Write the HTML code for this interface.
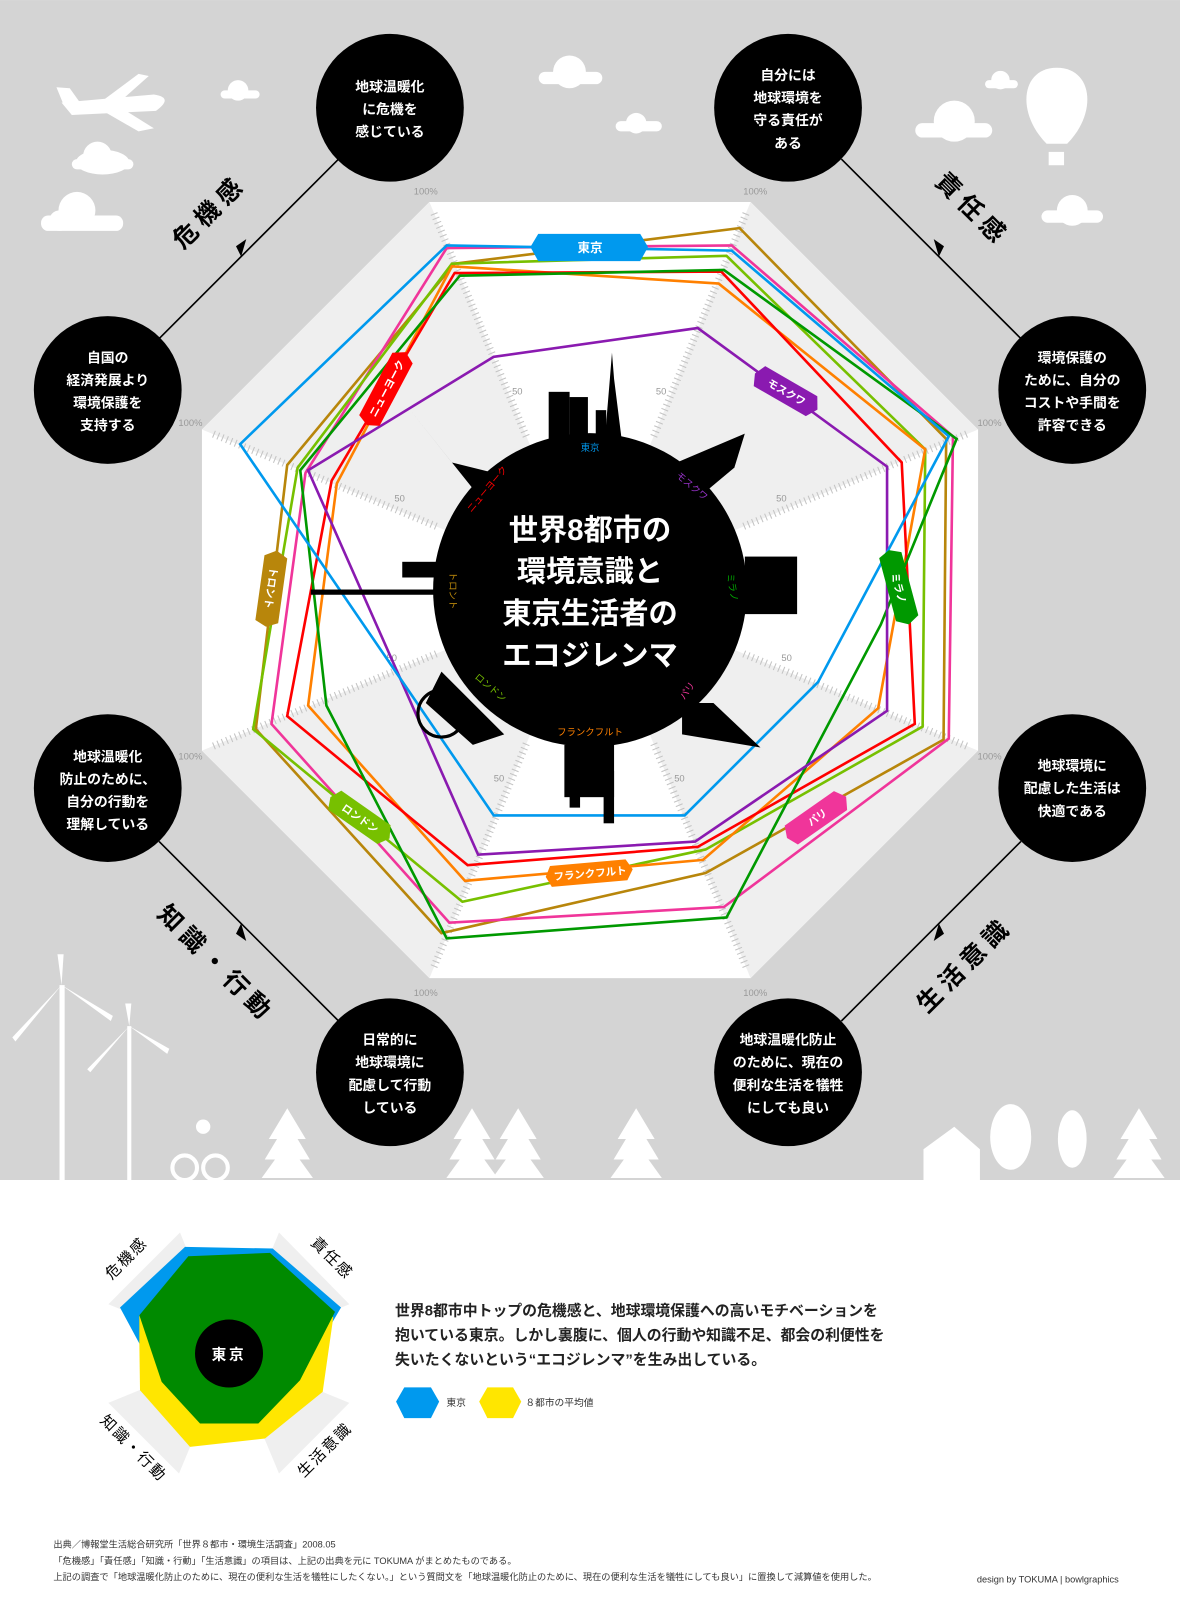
<!DOCTYPE html>
<html><head><meta charset="utf-8"><style>
html,body{margin:0;padding:0;background:#fff;}
svg{display:block;}
text{font-family:"Liberation Sans","Noto Sans CJK JP",sans-serif;}
</style></head><body>
<svg width="1180" height="1609" viewBox="0 0 1150 1568" xmlns="http://www.w3.org/2000/svg">
<rect x="0" y="0" width="1150" height="1150" fill="#d4d4d4"/>
<rect x="0" y="1150" width="1150" height="418" fill="#fff"/>

<!-- clouds / decorations -->
<g fill="#fff">
<ellipse cx="100" cy="158" rx="26" ry="12"/><circle cx="95" cy="152" r="14"/><rect x="70" y="155" width="60" height="10" rx="5"/>
<circle cx="75" cy="205" r="18"/><circle cx="58" cy="215" r="10"/><rect x="40" y="210" width="80" height="15" rx="7"/>
<circle cx="232" cy="88" r="10"/><rect x="215" y="88" width="38" height="8" rx="4"/>
<circle cx="555" cy="70" r="16"/><rect x="525" y="70" width="62" height="12" rx="6"/>
<circle cx="620" cy="120" r="10"/><rect x="600" y="118" width="45" height="10" rx="5"/>
<circle cx="930" cy="118" r="20"/><rect x="892" y="120" width="75" height="14" rx="7"/>
<circle cx="1045" cy="205" r="15"/><rect x="1015" y="205" width="60" height="12" rx="6"/>
<circle cx="975" cy="78" r="9"/><rect x="960" y="78" width="32" height="8" rx="4"/>
<!-- plane -->
<path d="M60 100 L150 92 Q170 95 152 108 L70 112 Z"/><path d="M110 100 L150 125 L135 128 L95 105Z"/><path d="M100 98 L135 72 L145 74 L118 98Z"/><path d="M62 102 L55 85 L68 86 L78 100Z"/>
<!-- balloon -->
<path d="M1030 66 C995 66 990 110 1020 140 L1040 140 C1070 110 1065 66 1030 66Z"/><rect x="1022" y="148" width="15" height="13"/>
<!-- windmills -->
<rect x="58" y="960" width="5" height="190"/><path d="M60 960 L56 930 L62 930Z M60 960 L15 1015 L12 1011Z M60 960 L110 990 L108 995Z"/>
<rect x="124" y="1000" width="4" height="150"/><path d="M126 1000 L122 978 L128 978Z M126 1000 L88 1045 L85 1042Z M126 1000 L165 1022 L163 1027Z"/>
<!-- trees -->
<path d="M280 1080 L298 1110 L290 1110 L302 1130 L292 1130 L305 1148 L255 1148 L268 1130 L258 1130 L270 1110 L262 1110Z"/>
<path d="M460 1080 L478 1110 L470 1110 L482 1130 L472 1130 L485 1148 L435 1148 L448 1130 L438 1130 L450 1110 L442 1110Z"/>
<path d="M505 1080 L523 1110 L515 1110 L527 1130 L517 1130 L530 1148 L480 1148 L493 1130 L483 1130 L495 1110 L487 1110Z"/>
<path d="M620 1080 L638 1110 L630 1110 L642 1130 L632 1130 L645 1148 L595 1148 L608 1130 L598 1130 L610 1110 L602 1110Z"/>
<path d="M1110 1080 L1128 1110 L1120 1110 L1132 1130 L1122 1130 L1135 1148 L1085 1148 L1098 1130 L1088 1130 L1100 1110 L1092 1110Z"/>
<ellipse cx="985" cy="1108" rx="20" ry="32"/><ellipse cx="1045" cy="1110" rx="14" ry="28"/>
<path d="M900 1120 L930 1098 L955 1120 L955 1150 L900 1150Z"/>
<circle cx="180" cy="1138" r="12" fill="none" stroke="#fff" stroke-width="4"/><circle cx="210" cy="1138" r="12" fill="none" stroke="#fff" stroke-width="4"/><circle cx="198" cy="1098" r="7"/>
</g>

<!-- connectors -->
<g stroke="#000" stroke-width="1.6">
<line x1="330" y1="155" x2="155" y2="330"/>
<line x1="820" y1="155" x2="995" y2="330"/>
<line x1="155" y1="820" x2="330" y2="995"/>
<line x1="995" y1="820" x2="820" y2="995"/>
</g>
<g fill="#000">
<path d="M240 233 L230 240 L235 250 Z" transform="rotate(0)"/>
<path d="M910 233 L920 240 L915 250 Z"/>
<path d="M240 917 L230 910 L235 900 Z"/>
<path d="M910 917 L920 910 L915 900 Z"/>
</g>
<g font-size="24" font-weight="bold" fill="#000" text-anchor="middle" letter-spacing="6">
<text transform="translate(210,212) rotate(-45)">危機感</text>
<text transform="translate(942,210) rotate(45)">責任感</text>
<text transform="translate(205,945) rotate(45)">知識・行動</text>
<text transform="translate(946,946) rotate(-45)">生活意識</text>
</g>

<!-- main chart in zoom coords -->
<g transform="translate(175.4,175.4) scale(0.5097)">
<polygon points="477,42 1091,42 1526,477 1526,1091 1091,1526 477,1526 42,1091 42,477" fill="#fff"/>
<g fill="#efefef">
<polygon points="784,784 1091,42 1526,477"/>
<polygon points="784,784 1526,1091 1091,1526"/>
<polygon points="784,784 477,1526 42,1091"/>
<polygon points="784,784 42,477 477,42"/>
</g>
<g stroke="#c4c4c4" stroke-width="14" stroke-dasharray="2 7">
<line x1="662" y1="490" x2="484" y2="60"/>
<line x1="906" y1="490" x2="1084" y2="60"/>
<line x1="1078" y1="662" x2="1508" y2="484"/>
<line x1="1078" y1="906" x2="1508" y2="1084"/>
<line x1="906" y1="1078" x2="1084" y2="1508"/>
<line x1="662" y1="1078" x2="484" y2="1508"/>
<line x1="490" y1="906" x2="60" y2="1084"/>
<line x1="490" y1="662" x2="60" y2="484"/>
</g>
<g font-size="18" fill="#999" text-anchor="middle">
<text x="645" y="410">50</text><text x="920" y="410">50</text><text x="1150" y="615">50</text><text x="1160" y="920">50</text>
<text x="955" y="1150">50</text><text x="610" y="1150">50</text><text x="405" y="920">50</text><text x="420" y="615">50</text>
<text x="470" y="28">100%</text><text x="1100" y="28">100%</text><text x="1548" y="470">100%</text><text x="1548" y="1108">100%</text>
<text x="1100" y="1560">100%</text><text x="470" y="1560">100%</text><text x="20" y="1108">100%</text><text x="20" y="470">100%</text>
</g>
<g fill="none" stroke-width="5" stroke-linejoin="miter">
<polygon stroke="#b8860b" points="525,160 1070,92 1465,495 1460,1070 1005,1325 500,1440 145,1050 205,545"/>
<polygon stroke="#f0359a" points="510,130 1055,125 1478,490 1470,1068 1040,1390 515,1420 175,1040 240,560"/>
<polygon stroke="#77c000" points="520,160 1045,145 1425,515 1420,1045 1005,1280 540,1380 140,1050 225,550"/>
<polygon stroke="#ff8000" points="520,165 1030,198 1425,515 1335,1010 1000,1300 545,1340 245,1005 300,580"/>
<polygon stroke="#ff0000" points="525,178 1035,175 1380,540 1405,1040 990,1275 550,1310 205,1025 290,575"/>
<polygon stroke="#009900" points="535,183 1040,172 1485,495 1340,850 1045,1410 510,1450 280,1005 230,555"/>
<polygon stroke="#8a1ab0" points="600,338 990,283 1352,548 1352,1015 985,1265 570,1290 414,937 245,555"/>
<polygon stroke="#0099ee" points="510,125 1055,135 1470,490 1220,960 965,1215 600,1215 411,938 115,505"/>
</g>
<!-- skyline approximations -->
<g fill="#000">
<rect x="705" y="405" width="40" height="100"/><rect x="745" y="415" width="35" height="90"/><rect x="795" y="440" width="20" height="60"/>
<path d="M812 500 L822 380 L826 330 L830 380 L845 500Z"/>
<path d="M440 440 L520 540 L600 560 L560 590 Z"/>
<path d="M950 540 L1080 485 L1060 550 L1000 600Z"/>
<rect x="1080" y="720" width="100" height="110"/>
<rect x="425" y="730" width="80" height="30"/><rect x="250" y="783" width="250" height="10"/>
<path d="M500 940 L620 1060 L560 1080 L470 1000Z"/><circle cx="500" cy="1020" r="45" fill="none" stroke="#000" stroke-width="6"/>
<path d="M960 1000 L1020 1000 L1110 1085 L960 1060Z"/>
<rect x="735" y="1080" width="95" height="100"/><rect x="745" y="1130" width="20" height="70"/><rect x="810" y="1130" width="20" height="100"/>
</g>
<circle cx="784" cy="784" r="300" fill="#000"/>
<g font-size="18" text-anchor="middle">
<text x="784" y="518" fill="#0099ee">東京</text>
<text x="975" y="590" fill="#9933cc" transform="rotate(40 975 590)">モスクワ</text>
<text x="1050" y="780" fill="#00aa00" transform="rotate(80 1050 780)">ミラノ</text>
<text x="975" y="980" fill="#f0359a" transform="rotate(-55 975 980)">パリ</text>
<text x="784" y="1062" fill="#ff8000">フランクフルト</text>
<text x="590" y="975" fill="#77c000" transform="rotate(40 590 975)">ロンドン</text>
<text x="515" y="785" fill="#b8860b" transform="rotate(90 515 785)">トロント</text>
<text x="592" y="595" fill="#ff0000" transform="rotate(-50 592 595)">ニューヨーク</text>
</g>
<g font-size="56" font-weight="bold" fill="#fff" text-anchor="middle">
<text x="784" y="688">世界8都市の</text>
<text x="784" y="768">環境意識と</text>
<text x="784" y="848">東京生活者の</text>
<text x="784" y="928">エコジレンマ</text>
</g>
<!-- tags -->
<g font-size="24" font-weight="bold" fill="#fff" text-anchor="middle">
<path d="M685 103 L880 103 L895 128 L880 155 L685 155 L670 128Z" fill="#0099ee"/><text x="784" y="138">東京</text>
<g transform="translate(395,398) rotate(-62)"><path d="M-70 -22 L65 -22 L78 0 L65 22 L-70 22 L-80 0Z" fill="#ff0000"/><text x="0" y="8" font-size="20">ニューヨーク</text></g>
<g transform="translate(1160,405) rotate(30)"><path d="M-60 -22 L55 -22 L68 0 L55 22 L-60 22 L-70 0Z" fill="#8a1ab0"/><text x="0" y="8" font-size="20">モスクワ</text></g>
<g transform="translate(175,780) rotate(-82)"><path d="M-65 -22 L60 -22 L72 0 L60 22 L-65 22 L-75 0Z" fill="#b8860b"/><text x="0" y="8" font-size="20" transform="rotate(180)">トロント</text></g>
<g transform="translate(1375,780) rotate(75)"><path d="M-65 -22 L60 -22 L72 0 L60 22 L-65 22 L-75 0Z" fill="#009900"/><text x="0" y="8" font-size="20">ミラノ</text></g>
<g transform="translate(345,1220) rotate(35)"><path d="M-60 -22 L55 -22 L68 0 L55 22 L-60 22 L-70 0Z" fill="#77c000"/><text x="0" y="8" font-size="20">ロンドン</text></g>
<g transform="translate(784,1325) rotate(-5)"><path d="M-75 -20 L70 -20 L82 0 L70 20 L-75 20 L-85 0Z" fill="#ff8000"/><text x="0" y="8" font-size="20">フランクフルト</text></g>
<g transform="translate(1218,1218) rotate(-35)"><path d="M-60 -22 L55 -22 L68 0 L55 22 L-60 22 L-70 0Z" fill="#f0359a"/><text x="0" y="8" font-size="20">パリ</text></g>
</g>
</g>

<!-- question circles -->
<g fill="#000">
<circle cx="380" cy="105" r="72"/><circle cx="768" cy="105" r="72"/>
<circle cx="1045" cy="380" r="72"/><circle cx="1045" cy="768" r="72"/>
<circle cx="768" cy="1045" r="72"/><circle cx="380" cy="1045" r="72"/>
<circle cx="105" cy="768" r="72"/><circle cx="105" cy="380" r="72"/>
</g>
<g font-size="13.5" font-weight="bold" fill="#fff" text-anchor="middle">
<text x="380" y="89">地球温暖化</text><text x="380" y="111">に危機を</text><text x="380" y="133">感じている</text>
<text x="768" y="78">自分には</text><text x="768" y="100">地球環境を</text><text x="768" y="122">守る責任が</text><text x="768" y="144">ある</text>
<text x="1045" y="353">環境保護の</text><text x="1045" y="375">ために、自分の</text><text x="1045" y="397">コストや手間を</text><text x="1045" y="419">許容できる</text>
<text x="1045" y="751">地球環境に</text><text x="1045" y="773">配慮した生活は</text><text x="1045" y="795">快適である</text>
<text x="768" y="1018">地球温暖化防止</text><text x="768" y="1040">のために、現在の</text><text x="768" y="1062">便利な生活を犠牲</text><text x="768" y="1084">にしても良い</text>
<text x="380" y="1018">日常的に</text><text x="380" y="1040">地球環境に</text><text x="380" y="1062">配慮して行動</text><text x="380" y="1084">している</text>
<text x="105" y="742">地球温暖化</text><text x="105" y="764">防止のために、</text><text x="105" y="786">自分の行動を</text><text x="105" y="808">理解している</text>
<text x="105" y="353">自国の</text><text x="105" y="375">経済発展より</text><text x="105" y="397">環境保護を</text><text x="105" y="419">支持する</text>
</g>

<!-- bottom small radar -->
<g transform="scale(0.9747) translate(80,1200) scale(0.3333)">
<g fill="#efefef">
<polygon points="447,460 300,97 85,312"/><polygon points="447,460 597,97 808,312"/>
<polygon points="447,460 85,608 297,820"/><polygon points="447,460 808,608 597,820"/>
</g>
<polygon fill="#0099ee" points="315,140 578,145 783,322 755,370 447,460 178,430 120,322"/>
<polygon fill="#ffe600" points="178,345 760,350 728,575 555,715 330,740 180,570 178,430"/>
<polygon fill="#008a00" points="325,168 570,158 765,335 660,540 535,670 360,670 245,545 178,345"/>
<circle cx="447" cy="460" r="102" fill="#000"/>
<text x="447" y="478" font-size="44" font-weight="bold" fill="#fff" text-anchor="middle" letter-spacing="8">東京</text>
<g font-size="46" fill="#000" text-anchor="middle" letter-spacing="6">
<text transform="translate(150,185) rotate(-45)">危機感</text>
<text transform="translate(745,185) rotate(45)">責任感</text>
<text transform="translate(150,755) rotate(45)">知識・行動</text>
<text transform="translate(745,760) rotate(-45)">生活意識</text>
</g>
</g>

<g font-size="14.5" font-weight="bold" fill="#222">
<text x="385" y="1282">世界8都市中トップの危機感と、地球環境保護への高いモチベーションを</text>
<text x="385" y="1306">抱いている東京。しかし裏腹に、個人の行動や知識不足、都会の利便性を</text>
<text x="385" y="1330">失いたくないという“エコジレンマ”を生み出している。</text>
</g>
<path d="M394 1352 L420 1352 L428 1366 L420 1382 L394 1382 L386 1366Z" fill="#0099ee"/>
<path d="M475 1352 L500 1352 L508 1366 L500 1382 L475 1382 L467 1366Z" fill="#ffe600"/>
<g font-size="9.5" fill="#333">
<text x="435" y="1370">東京</text><text x="512" y="1370">８都市の平均値</text>
</g>
<g font-size="9" fill="#333">
<text x="52" y="1508">出典／博報堂生活総合研究所「世界８都市・環境生活調査」2008.05</text>
<text x="52" y="1524">「危機感」「責任感」「知識・行動」「生活意識」の項目は、上記の出典を元に TOKUMA がまとめたものである。</text>
<text x="52" y="1540">上記の調査で「地球温暖化防止のために、現在の便利な生活を犠牲にしたくない。」という質問文を「地球温暖化防止のために、現在の便利な生活を犠牲にしても良い」に置換して減算値を使用した。</text>
<text x="952" y="1542">design by TOKUMA | bowlgraphics</text>
</g>
</svg>
</body></html>
